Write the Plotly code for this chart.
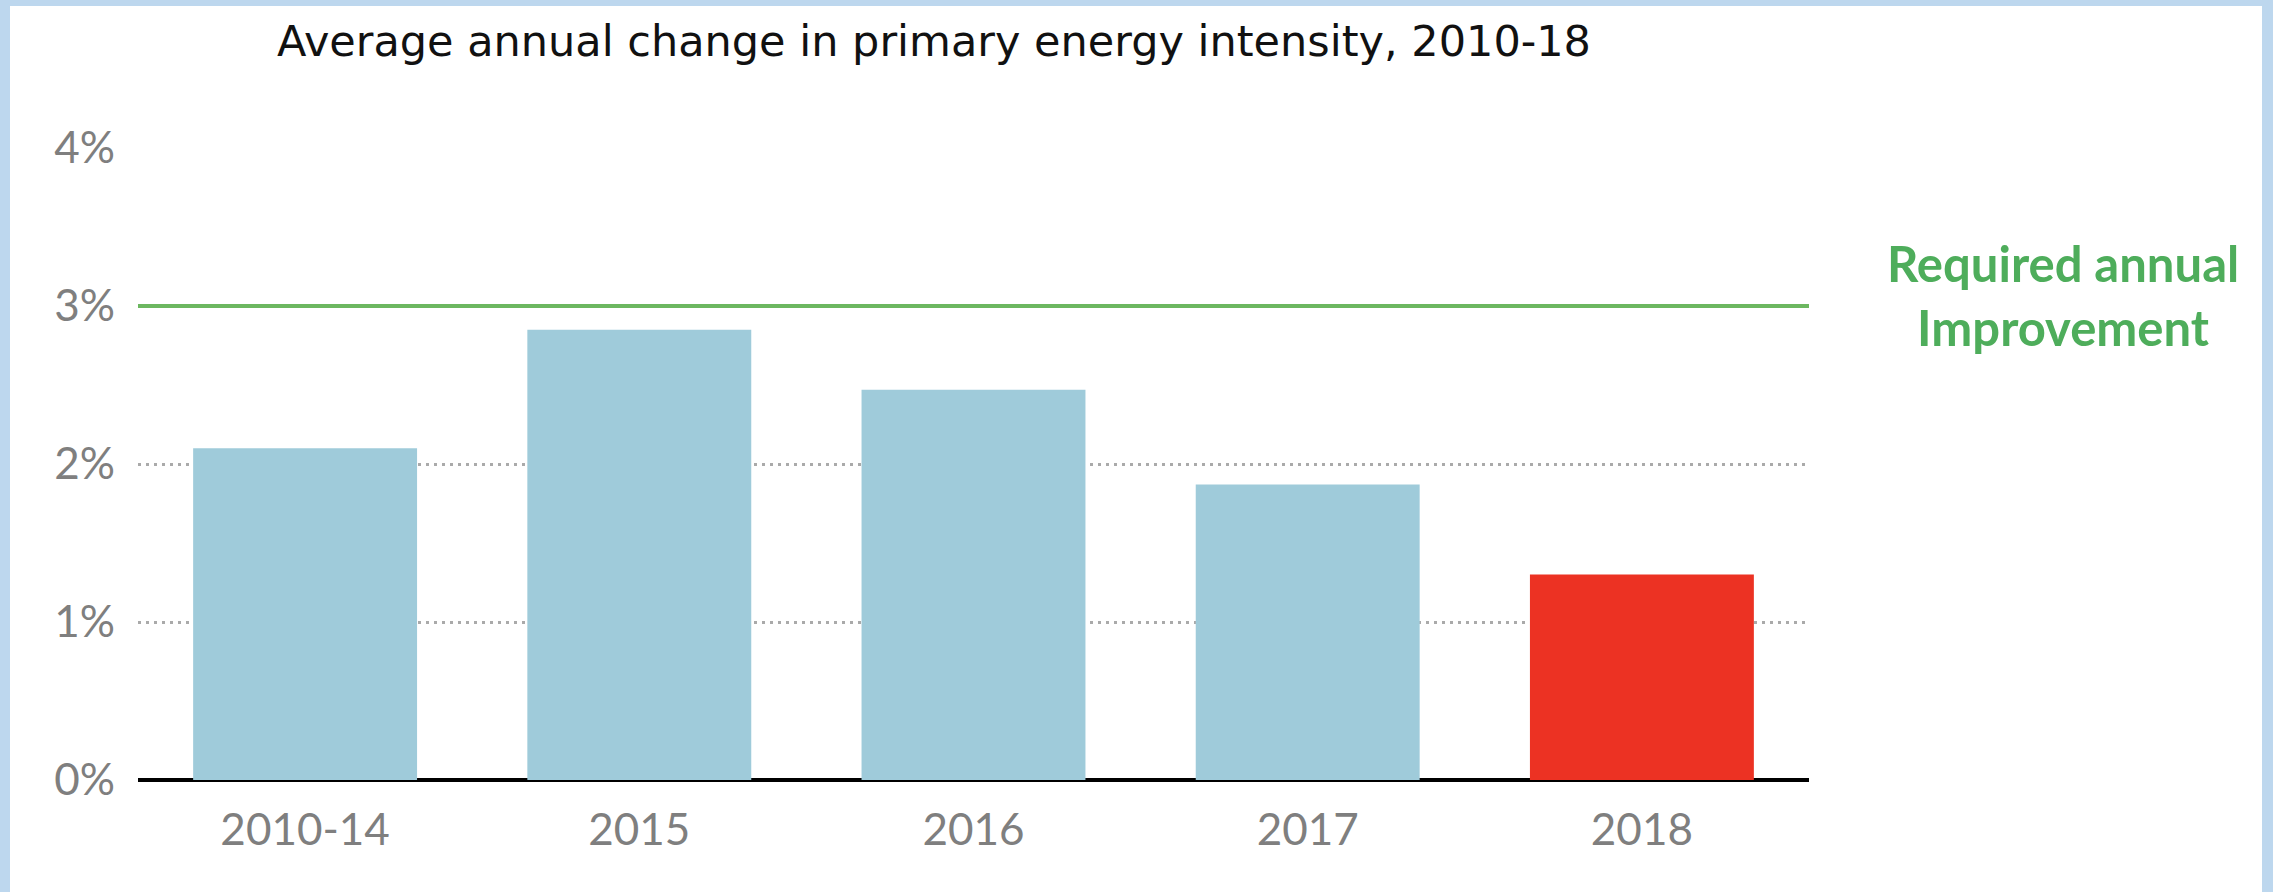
import plotly.graph_objects as go

W, H = 2273, 892
L, R, T, B = 138, 464, 148, 112

categories = ["2010-14", "2015", "2016", "2017", "2018"]
values = [2.1, 2.85, 2.47, 1.87, 1.3]
bar_colors = ["#9FCBDA", "#9FCBDA", "#9FCBDA", "#9FCBDA", "#EC3223"]
required = 3.0
y_ticks = [0, 1, 2, 3, 4]
y_labels = ["0%", "1%", "2%", "3%", "4%"]

BORDER = "#BDD7EE"
GREEN_LINE = "#6CB760"
GREEN_TEXT = "#4EAD5B"
GREY = "#7F7F7F"


def px_x(px):
    return (px - L) / (W - L - R)


def px_y(py):
    return (H - B - py) / (H - T - B)


fig = go.Figure(go.Bar(
    x=categories, y=values, marker=dict(color=bar_colors, line_width=0),
    width=0.67, hoverinfo="skip",
))

shapes = [
    # required improvement line
    dict(type="line", xref="paper", yref="y", x0=0, x1=1, y0=required, y1=required,
         line=dict(color=GREEN_LINE, width=4), layer="above"),
    # frame around the slide
    dict(type="rect", xref="paper", yref="paper", x0=px_x(0), x1=px_x(10),
         y0=px_y(H), y1=px_y(0), fillcolor=BORDER, line_width=0),
    dict(type="rect", xref="paper", yref="paper", x0=px_x(0), x1=px_x(W),
         y0=px_y(6), y1=px_y(0), fillcolor=BORDER, line_width=0),
    dict(type="rect", xref="paper", yref="paper", x0=px_x(2262), x1=px_x(W),
         y0=px_y(H), y1=px_y(0), fillcolor=BORDER, line_width=0),
]

fig.update_layout(
    width=W, height=H,
    margin=dict(l=L, r=R, t=T, b=B),
    paper_bgcolor="white", plot_bgcolor="white",
    showlegend=False,
    shapes=shapes,
    font=dict(family="Lato", color=GREY),
)
fig.add_annotation(
    text="Average annual change in primary energy intensity, 2010-18",
    xref="paper", yref="paper", x=px_x(934), y=px_y(41),
    xanchor="center", yanchor="middle", showarrow=False,
    font=dict(family="DejaVu Sans", size=43, color="#111111"),
)
fig.add_annotation(
    text="<b>Required annual</b><br><b>Improvement</b>",
    xref="paper", yref="paper", x=px_x(2063), y=px_y(295),
    xanchor="center", yanchor="middle", showarrow=False, align="center",
    font=dict(family="Lato", size=49, color=GREEN_TEXT),
)
fig.update_xaxes(
    showgrid=False, showline=False, ticks="",
    tickfont=dict(size=44, color=GREY), ticklabelstandoff=20,
    range=[-0.5, 4.5],
)
fig.update_yaxes(
    range=[0, 4], tickmode="array", tickvals=y_ticks, ticktext=y_labels,
    showgrid=True, gridcolor="#AAAAAA", gridwidth=3, griddash="3px,5px",
    zeroline=True, zerolinecolor="black", zerolinewidth=4,
    tickfont=dict(size=44, color=GREY), ticklabelstandoff=22,
    fixedrange=True,
)

# drop the default 8px body margin so the figure fills the window exactly
fig.write_html("out.html", config={"displayModeBar": False},
               post_script="document.body.style.margin='0';")
